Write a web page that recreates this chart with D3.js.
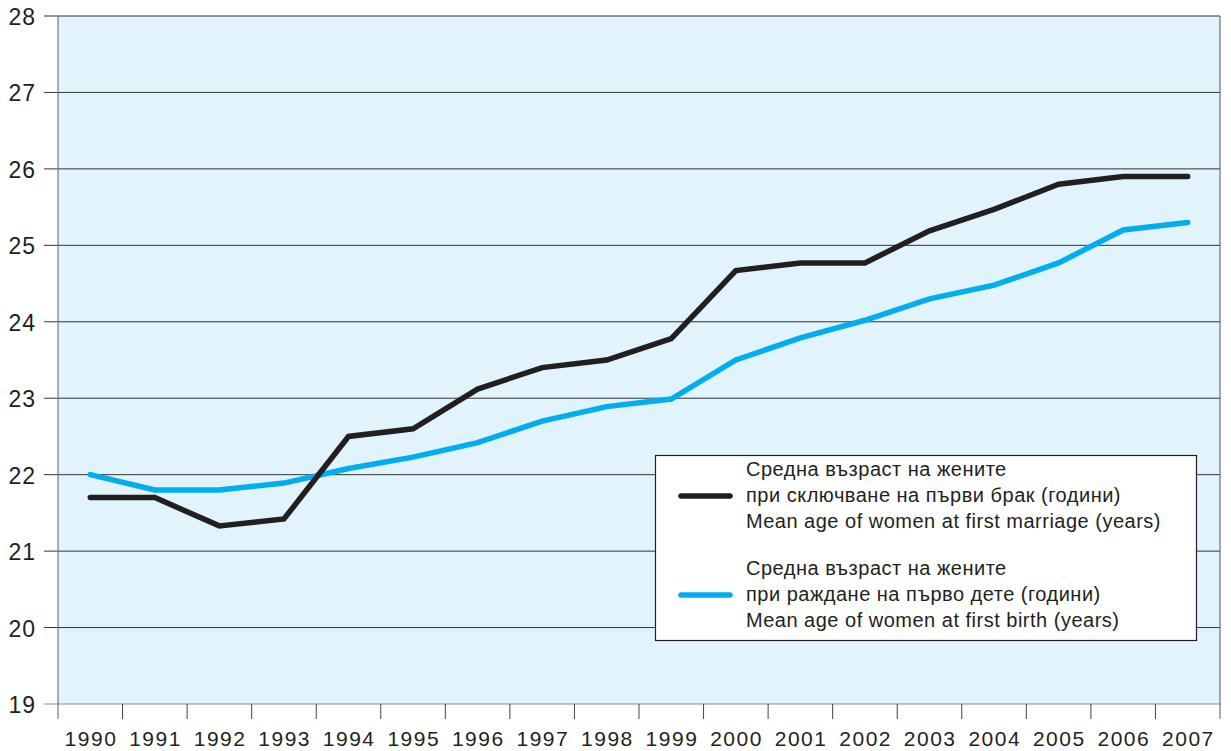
<!DOCTYPE html>
<html>
<head>
<meta charset="utf-8">
<script src="https://cdn.jsdelivr.net/npm/d3@7"></script>
<style>
  body { margin: 0; background: #fff; }
  svg { display: block; font-family: "Liberation Sans", Arial, sans-serif; }
</style>
</head>
<body>
<svg width="1231" height="751"></svg>
<script>
const years = ["1990","1991","1992","1993","1994","1995","1996","1997","1998","1999",
               "2000","2001","2002","2003","2004","2005","2006","2007"];
const marriageAge = [21.7, 21.7, 21.33, 21.42, 22.5, 22.6, 23.12, 23.4, 23.5, 23.78,
                     24.67, 24.77, 24.77, 25.19, 25.47, 25.8, 25.9, 25.9];
const birthAge = [22.0, 21.8, 21.8, 21.89, 22.08, 22.23, 22.42, 22.7, 22.89, 22.99,
                  23.5, 23.79, 24.02, 24.3, 24.48, 24.77, 25.2, 25.3];
const yTicks = [19, 20, 21, 22, 23, 24, 25, 26, 27, 28];
const legendLines = [
    ["Средна възраст на жените", "при сключване на първи брак (години)", "Mean age of women at first marriage (years)"],
    ["Средна възраст на жените", "при раждане на първо дете (години)", "Mean age of women at first birth (years)"]
];
const seriesColors = ["#231f20", "#00aeef"];

const svg = d3.select("svg");
const plotLeft = 58, plotRight = 1220, plotTop = 16, plotBottom = 704;

const x = d3.scaleBand().domain(years).range([plotLeft, plotRight]);
const y = d3.scaleLinear().domain([19, 28]).range([plotBottom, plotTop]);

// plot background
svg.append("rect")
    .attr("x", plotLeft).attr("y", plotTop)
    .attr("width", plotRight - plotLeft).attr("height", plotBottom - plotTop)
    .attr("fill", "#e1f3fb");

// horizontal grid lines with left ticks
svg.append("g")
    .selectAll("line")
    .data(yTicks)
    .enter()
    .append("line")
    .attr("x1", 44).attr("x2", plotRight)
    .attr("y1", d => y(d)).attr("y2", d => y(d))
    .attr("stroke", d => d === 19 ? "#888" : "#333")
    .attr("stroke-width", 1);

svg.append("g")
    .selectAll("text")
    .data(yTicks)
    .enter()
    .append("text")
    .attr("x", 36)
    .attr("y", d => y(d) + 9)
    .attr("text-anchor", "end")
    .attr("font-size", 23)
    .attr("letter-spacing", 1)
    .attr("fill", "#231f20")
    .text(d => d);

// left & right frame
svg.append("line")
    .attr("x1", plotLeft).attr("x2", plotLeft).attr("y1", plotTop).attr("y2", plotBottom + 15)
    .attr("stroke", "#777").attr("stroke-width", 1.2);
svg.append("line")
    .attr("x1", plotRight).attr("x2", plotRight).attr("y1", plotTop).attr("y2", plotBottom + 15)
    .attr("stroke", "#555").attr("stroke-width", 1);

// x ticks at band boundaries
svg.append("g")
    .selectAll("line")
    .data(years.slice(1))
    .enter()
    .append("line")
    .attr("x1", d => x(d)).attr("x2", d => x(d))
    .attr("y1", plotBottom).attr("y2", plotBottom + 15)
    .attr("stroke", "#444").attr("stroke-width", 1);

svg.append("g")
    .selectAll("text")
    .data(years)
    .enter()
    .append("text")
    .attr("x", d => x(d) + x.bandwidth() / 2 + 0.7)
    .attr("y", 746)
    .attr("text-anchor", "middle")
    .attr("font-size", 21)
    .attr("letter-spacing", 1.5)
    .attr("fill", "#231f20")
    .text(d => d);

// series lines
const line = d3.line()
    .x((d, i) => x(years[i]) + x.bandwidth() / 2)
    .y(d => y(d));

[birthAge, marriageAge].forEach((series, k) => {
    svg.append("path")
        .datum(series)
        .attr("d", line)
        .attr("fill", "none")
        .attr("stroke", seriesColors[1 - k])
        .attr("stroke-width", 5.5)
        .attr("stroke-linejoin", "miter")
        .attr("stroke-linecap", "round");
});

// legend
const lg = svg.append("g");
lg.append("rect")
    .attr("x", 655.5).attr("y", 455.5)
    .attr("width", 541).attr("height", 185)
    .attr("fill", "#fff").attr("stroke", "#231f20").attr("stroke-width", 1.2);

legendLines.forEach((lines, k) => {
    const baseY = 476 + k * 99;
    lg.append("line")
        .attr("x1", 681).attr("x2", 730)
        .attr("y1", baseY + 20).attr("y2", baseY + 20)
        .attr("stroke", seriesColors[k]).attr("stroke-width", 5.5)
        .attr("stroke-linecap", "round");
    lines.forEach((t, j) => {
        lg.append("text")
            .attr("x", 746)
            .attr("y", baseY + j * 26)
            .attr("font-size", 20)
            .attr("letter-spacing", 0.5)
            .attr("fill", "#231f20")
            .text(t);
    });
});
</script>
</body>
</html>
